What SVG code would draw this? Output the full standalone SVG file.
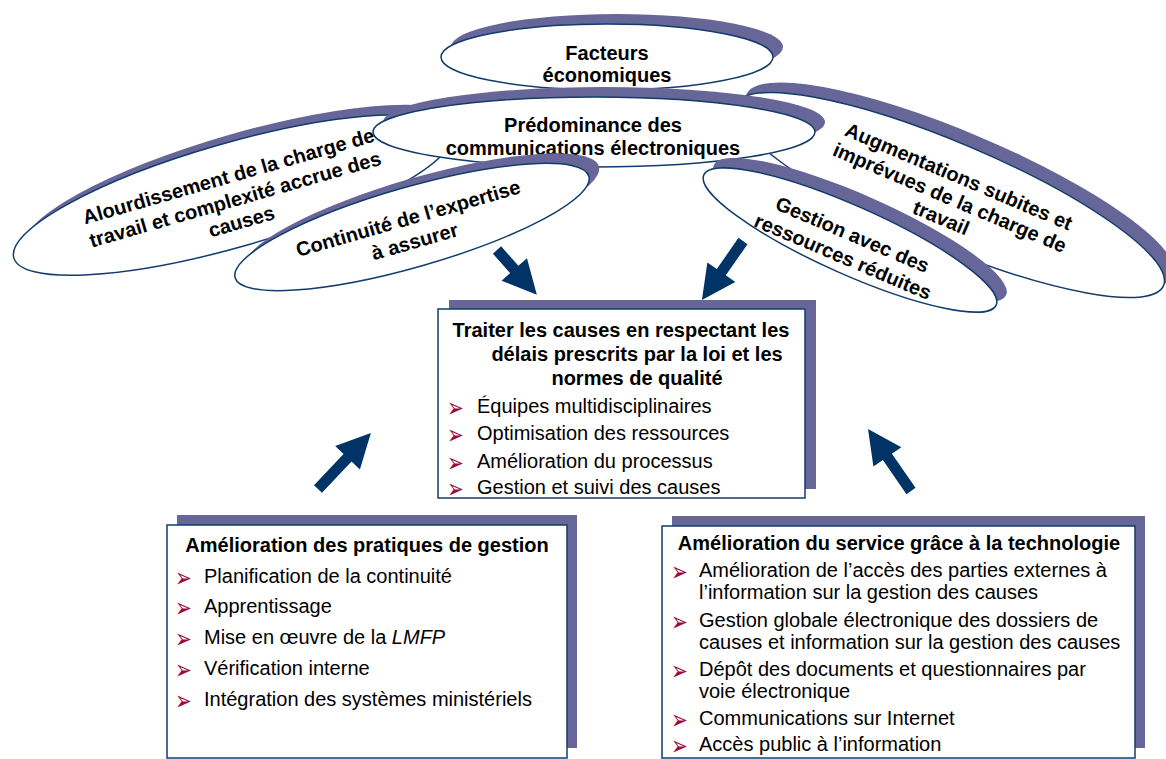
<svg xmlns="http://www.w3.org/2000/svg" width="1166" height="759" viewBox="0 0 1166 759">
<defs>
<style>
.sh{fill:#666699;stroke:none}
.el{fill:#ffffff;stroke:#123c6b;stroke-width:1.5}
.bx{fill:#ffffff;stroke:#123c6b;stroke-width:1.5}
.t{font-family:"Liberation Sans",Arial,sans-serif;font-size:20px;fill:#000}
.b{font-weight:bold}
.m{text-anchor:middle}
.bul{font-family:"DejaVu Sans",sans-serif;font-size:20px;fill:#9a0a3c}
.arr{fill:#003366}
</style>
<text id="bl" class="bul" transform="scale(1,1.35)">➢</text>
</defs>
<rect width="1166" height="759" fill="#ffffff"/>

<g id="facteurs">
<ellipse class="sh" cx="617" cy="47" rx="166" ry="33"/>
<ellipse class="el" cx="607" cy="57" rx="166" ry="33"/>
<text class="t b m" x="607" y="60">Facteurs</text>
<text class="t b m" x="607" y="82">économiques</text>
</g>

<g id="augmentations">
<g transform="translate(950,195) rotate(23)">
<ellipse class="sh" cx="0" cy="0" rx="232" ry="52" transform="rotate(-23) translate(10,-10) rotate(23)"/>
<ellipse class="el" cx="0" cy="0" rx="232" ry="52"/>
</g>
<g transform="translate(947,204) rotate(23)">
<text class="t b m" x="0" y="-23">Augmentations subites et</text>
<text class="t b m" x="0" y="0">imprévues de la charge de</text>
<text class="t b m" x="0" y="22">travail</text>
</g>
</g>

<g id="alourdissement">
<g transform="translate(233,195) rotate(-16)">
<ellipse class="sh" cx="0" cy="0" rx="228" ry="52" transform="rotate(16) translate(10,-10) rotate(-16)"/>
<ellipse class="el" cx="0" cy="0" rx="228" ry="52"/>
</g>
<g transform="translate(237,206) rotate(-16)">
<text class="t b m" x="0" y="-24">Alourdissement de la charge de</text>
<text class="t b m" x="0" y="0">travail et complexité accrue des</text>
<text class="t b m" x="0" y="23">causes</text>
</g>
</g>

<g id="predominance">
<ellipse class="sh" cx="604" cy="122" rx="221" ry="35"/>
<ellipse class="el" cx="594" cy="132" rx="221" ry="35"/>
<text class="t b m" x="593" y="132">Prédominance des</text>
<text class="t b m" x="593" y="155">communications électroniques</text>
</g>

<g id="continuite">
<g transform="translate(412,227) rotate(-16)">
<ellipse class="sh" cx="0" cy="0" rx="184" ry="40" transform="rotate(16) translate(10,-10) rotate(-16)"/>
<ellipse class="el" cx="0" cy="0" rx="184" ry="40"/>
</g>
<g transform="translate(410,225) rotate(-16)">
<text class="t b m" x="0" y="0">Continuité de l’expertise</text>
<text class="t b m" x="0" y="24">à assurer</text>
</g>
</g>

<g id="gestion">
<g transform="translate(850,240) rotate(24)">
<ellipse class="sh" cx="0" cy="0" rx="160" ry="34" transform="rotate(-24) translate(10,-10) rotate(24)"/>
<ellipse class="el" cx="0" cy="0" rx="160" ry="34"/>
</g>
<g transform="translate(845,252) rotate(23)">
<text class="t b m" x="0" y="-12">Gestion avec des</text>
<text class="t b m" x="0" y="12">ressources réduites</text>
</g>
</g>

<g id="connectors">
<polygon class="arr" transform="translate(497,250) rotate(48.4)" points="0,-5.5 26,-5.5 26,-17 60,0 26,17 26,5.5 0,5.5"/>
<polygon class="arr" transform="translate(743,241) rotate(124.8)" points="0,-5.5 38,-5.5 38,-17 72,0 38,17 38,5.5 0,5.5"/>
<polygon class="arr" transform="translate(318,489) rotate(-46.6)" points="0,-5.5 43,-5.5 43,-17 77,0 43,17 43,5.5 0,5.5"/>
<polygon class="arr" transform="translate(911,491) rotate(-124.7)" points="0,-5.5 41.5,-5.5 41.5,-17 75.5,0 41.5,17 41.5,5.5 0,5.5"/>
</g>

<g id="traiter">
<rect class="sh" x="449" y="300" width="367" height="189"/>
<rect class="bx" x="438" y="309" width="367" height="189"/>
<text class="t b m" x="621" y="337">Traiter les causes en respectant les</text>
<text class="t b m" x="637" y="361">délais prescrits par la loi et les</text>
<text class="t b m" x="637" y="385">normes de qualité</text>
<use href="#bl" x="447" y="417"/><text class="t" x="477" y="413">Équipes multidisciplinaires</text>
<use href="#bl" x="447" y="444"/><text class="t" x="477" y="440">Optimisation des ressources</text>
<use href="#bl" x="447" y="472"/><text class="t" x="477" y="468">Amélioration du processus</text>
<use href="#bl" x="447" y="498"/><text class="t" x="477" y="494">Gestion et suivi des causes</text>
</g>

<g id="pratiques">
<rect class="sh" x="177" y="515" width="400" height="233"/>
<rect class="bx" x="167" y="525" width="400" height="233"/>
<text class="t b m" x="367" y="552">Amélioration des pratiques de gestion</text>
<use href="#bl" x="175" y="587"/><text class="t" x="204" y="583">Planification de la continuité</text>
<use href="#bl" x="175" y="617"/><text class="t" x="204" y="613">Apprentissage</text>
<use href="#bl" x="175" y="648"/><text class="t" x="204" y="644">Mise en œuvre de la <tspan font-style="italic">LMFP</tspan></text>
<use href="#bl" x="175" y="679"/><text class="t" x="204" y="675">Vérification interne</text>
<use href="#bl" x="175" y="710"/><text class="t" x="204" y="706">Intégration des systèmes ministériels</text>
</g>

<g id="technologie">
<rect class="sh" x="672" y="516" width="473" height="232"/>
<rect class="bx" x="662" y="526" width="473" height="232"/>
<text class="t b m" x="899" y="550">Amélioration du service grâce à la technologie</text>
<use href="#bl" x="671" y="581"/><text class="t" x="699" y="577">Amélioration de l’accès des parties externes à</text>
<text class="t" x="699" y="599">l’information sur la gestion des causes</text>
<use href="#bl" x="671" y="631"/><text class="t" x="699" y="627">Gestion globale électronique des dossiers de</text>
<text class="t" x="699" y="649">causes et information sur la gestion des causes</text>
<use href="#bl" x="671" y="680"/><text class="t" x="699" y="676">Dépôt des documents et questionnaires par</text>
<text class="t" x="699" y="698">voie électronique</text>
<use href="#bl" x="671" y="729"/><text class="t" x="699" y="725">Communications sur Internet</text>
<use href="#bl" x="671" y="755"/><text class="t" x="699" y="751">Accès public à l’information</text>
</g>
</svg>
